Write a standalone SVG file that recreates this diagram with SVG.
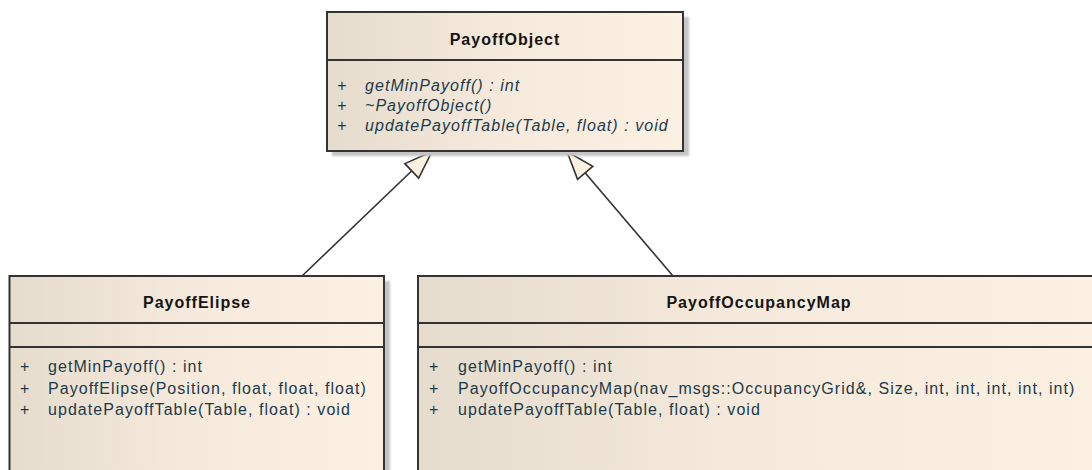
<svg xmlns="http://www.w3.org/2000/svg" width="1092" height="470" viewBox="0 0 1092 470">
<style>
.box{stroke:#333333;stroke-width:2;}
.shadow{fill:#c4c4c4;}
.div{stroke:#333333;stroke-width:2;}
.title{font-family:"Liberation Sans",Arial,sans-serif;font-size:16px;font-weight:bold;fill:#151515;letter-spacing:1px;text-anchor:middle;}
.m{font-family:"Liberation Sans",Arial,sans-serif;font-size:16px;fill:#1d3a4c;letter-spacing:1.05px;}
.it{font-style:italic;}
.conn{stroke:#333333;stroke-width:1.6;fill:none;}
</style>
<defs>
<linearGradient id="fillg" x1="0" y1="0" x2="1" y2="0">
<stop offset="0" stop-color="#e6dccd"/>
<stop offset="0.5" stop-color="#f5eadb"/>
<stop offset="1" stop-color="#fcf0e2"/>
</linearGradient>
<filter id="blur" x="-5%" y="-5%" width="110%" height="110%"><feGaussianBlur stdDeviation="1"/></filter>
<marker id="gen" markerUnits="userSpaceOnUse" markerWidth="34" markerHeight="26" viewBox="-31 -13 34 26" refX="0" refY="0" orient="auto">
<path d="M0,0 L-28,-10 L-28,10 Z" fill="#fbf0e2" stroke="#333333" stroke-width="1.6" stroke-linejoin="miter"/>
</marker>
</defs>
<rect width="1092" height="470" fill="#ffffff"/>

<g id="connectors">
<line class="conn" x1="302" y1="276" x2="432" y2="151.5" marker-end="url(#gen)"/>
<line class="conn" x1="673" y1="276" x2="567" y2="151.5" marker-end="url(#gen)"/>
</g>

<g id="PayoffObject">
<rect class="shadow" x="332" y="17" width="357" height="139" filter="url(#blur)"/>
<rect class="box" x="327" y="12" width="356" height="139" fill="url(#fillg)"/>
<line class="div" x1="327" y1="60" x2="683" y2="60"/>
<text class="title" x="505" y="45">PayoffObject</text>
<text class="m it" x="337" y="91">+</text>
<text class="m it" x="365" y="91">getMinPayoff() : int</text>
<text class="m it" x="337" y="111">+</text>
<text class="m it" x="365" y="111">~PayoffObject()</text>
<text class="m it" x="337" y="131">+</text>
<text class="m it" x="365" y="131">updatePayoffTable(Table, float) : void</text>
</g>

<g id="PayoffElipse">
<rect class="shadow" x="15" y="281" width="375" height="200" filter="url(#blur)"/>
<rect class="box" x="9.5" y="276" width="374.5" height="200" fill="url(#fillg)"/>
<line class="div" x1="9.5" y1="323" x2="384" y2="323"/>
<line class="div" x1="9.5" y1="347" x2="384" y2="347"/>
<text class="title" x="197" y="308">PayoffElipse</text>
<text class="m" x="20" y="372">+</text>
<text class="m" x="48" y="372">getMinPayoff() : int</text>
<text class="m" x="20" y="393.5">+</text>
<text class="m" x="48" y="393.5">PayoffElipse(Position, float, float, float)</text>
<text class="m" x="20" y="415">+</text>
<text class="m" x="48" y="415">updatePayoffTable(Table, float) : void</text>
</g>

<g id="PayoffOccupancyMap">
<rect class="box" x="418" y="276" width="682" height="200" fill="url(#fillg)"/>
<line class="div" x1="418" y1="323" x2="1100" y2="323"/>
<line class="div" x1="418" y1="347" x2="1100" y2="347"/>
<text class="title" x="759" y="308">PayoffOccupancyMap</text>
<text class="m" x="429" y="372">+</text>
<text class="m" x="458" y="372">getMinPayoff() : int</text>
<text class="m" x="429" y="393.5">+</text>
<text class="m" x="458" y="393.5">PayoffOccupancyMap(nav_msgs::OccupancyGrid&amp;, Size, int, int, int, int, int)</text>
<text class="m" x="429" y="415">+</text>
<text class="m" x="458" y="415">updatePayoffTable(Table, float) : void</text>
</g>
</svg>
